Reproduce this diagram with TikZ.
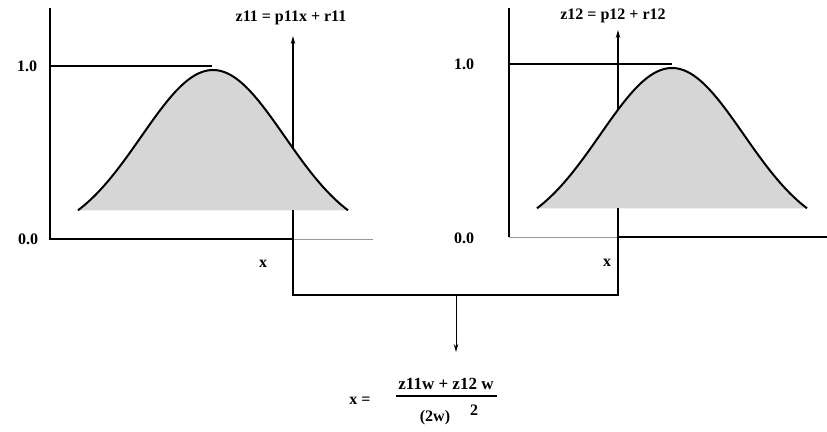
\documentclass[tikz,border=0pt]{standalone}
\usepackage{fontspec}
\setmainfont{Liberation Serif}
\usetikzlibrary{arrows.meta}
\tikzset{
    >={Stealth[length=8pt,width=4.5pt]},
    axis/.style={line width=1.4pt},
    faint/.style={line width=0.7pt,black!40},
    bell/.style={line width=2pt},
    dots/.style={fill=black!16},
    lbl/.style={font=\fontsize{16}{19}\selectfont\bfseries},
    num/.style={font=\fontsize{16}{19}\selectfont\bfseries}
}

\begin{document}
\begin{tikzpicture}[x=1pt,y=-1pt]
\useasboundingbox (0,0) rectangle (827,431);

% Left function
\coordinate (ltop) at (50,8);
\coordinate (lorg) at (50,239);
\coordinate (lone) at (50,66);
\coordinate (loneend) at (212,66);
\coordinate (lcut) at (293,239);
\coordinate (lfar) at (373,239);
\fill[dots] plot[domain=78:348,samples=80] (\x,{239-169*exp(-0.5*((\x-213)/71.7)^2)}) -- cycle;
\draw[bell] plot[domain=78:348,samples=80] (\x,{239-169*exp(-0.5*((\x-213)/71.7)^2)});
\draw[axis] (ltop) -- (lorg) -- (lcut);
\draw[faint] (lcut) -- (lfar);
\draw[axis] (lone) -- (loneend);
\node[num] (lone lbl) at (27,66) {1.0};
\node[num] (lzero lbl) at (28,239) {0.0};
\node[num] (lx) at (263,264) {x};
\node[lbl] (z11) at (291,18) {z11 = p11x + r11};

% Right function
\coordinate (rtop) at (509,8);
\coordinate (rorg) at (509,237);
\coordinate (rone) at (509,64);
\coordinate (roneend) at (672,64);
\coordinate (rcut) at (618,237);
\coordinate (rfar) at (827,237);
\fill[dots] plot[domain=537:807,samples=80] (\x,{237-169*exp(-0.5*((\x-672)/71.7)^2)}) -- cycle;
\draw[bell] plot[domain=537:807,samples=80] (\x,{237-169*exp(-0.5*((\x-672)/71.7)^2)});
\draw[axis] (rtop) -- (rorg);
\draw[faint] (rorg) -- (rcut);
\draw[axis] (rcut) -- (rfar);
\draw[axis] (rone) -- (roneend);
\node[num] (rone lbl) at (464,64) {1.0};
\node[num] (rzero lbl) at (464,238) {0.0};
\node[num] (rx) at (607,263) {x};
\node[lbl] (z12) at (613,16) {z12 = p12 + r12};

% Inputs and rule outputs
\coordinate (lhit) at (293,{239-169*exp(-0.5*((293-213)/71.7)^2)});
\coordinate (ltip) at (293,36);
\coordinate (rhit) at (618,{237-169*exp(-0.5*((618-672)/71.7)^2)});
\coordinate (rtip) at (618,30);
\draw[->,axis] (lhit) -- (ltip);
\draw[->,line width=1.1pt] (rhit) -- (rtip);
\coordinate (lin) at (293,210);
\coordinate (rin) at (618,208);
\coordinate (lcorner) at (293,295);
\coordinate (rcorner) at (618,295);
\coordinate (mid) at (456,295);
\coordinate (down) at (456,352);
\draw[axis] (lin) -- (lcorner) -- (rcorner) -- (rin);
\draw[->,line width=1pt] (mid) -- (down);

% Weighted average
\node[num] (xeq) at (360,401) {x =};
\node[lbl,font=\fontsize{17}{20}\selectfont\bfseries] (numer) at (446,384) {z11w + z12 w};
\coordinate (barl) at (396,396);
\coordinate (barr) at (497,396);
\draw[axis] (barl) -- (barr);
\node[num] (denom) at (435,418) {(2w)};
\node[lbl] (sq) at (474,410) {2};

\end{tikzpicture}
\end{document}
